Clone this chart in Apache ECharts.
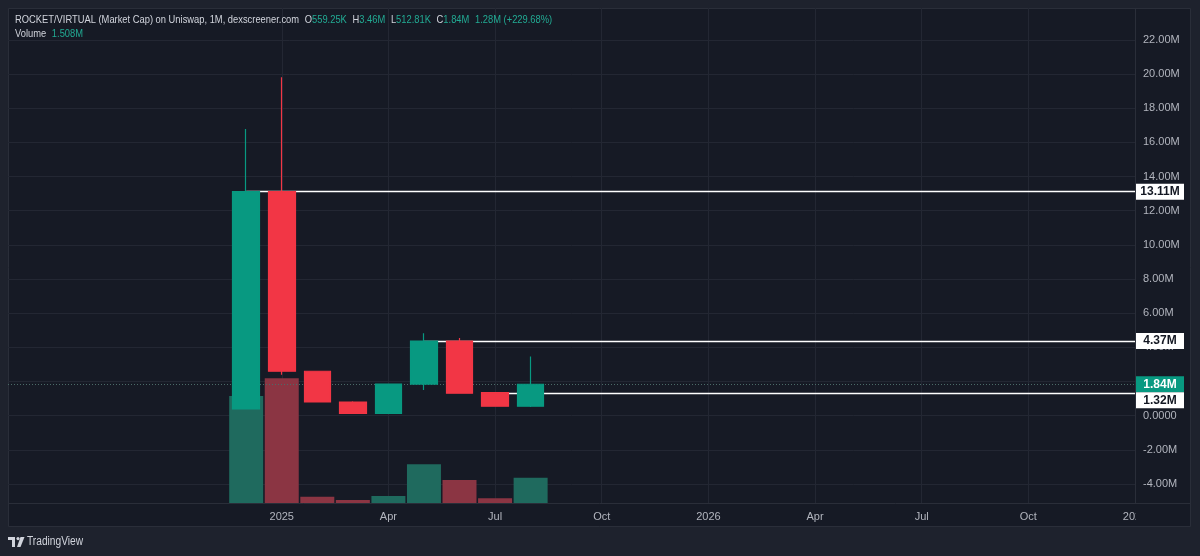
<!DOCTYPE html>
<html lang="en">
<head>
    <meta charset="utf-8">
    <title>ROCKET/VIRTUAL (Market Cap)</title>
    <style>html, body { margin: 0; padding: 0; background: #1e222d; }</style>
</head>
<body>
    <div id="main" style="width:1200px;height:556px;"></div>
    <script src="https://cdn.jsdelivr.net/npm/echarts@6/dist/echarts.min.js"></script>
    <script type="text/javascript">
    // monthly candles, values in millions (market cap)
    var months    = ['2024-12', '2025-01', '2025-02', '2025-03', '2025-04', '2025-05', '2025-06', '2025-07', '2025-08'];
    var openData  = [0.39, 13.11, 2.60, 0.80, 0.14, 1.85, 4.37, 1.35, 0.559];
    var closeData = [13.11, 2.60, 0.80, 0.14, 1.85, 4.37, 1.32, 0.559, 1.84];
    var lowData   = [0.39, 2.40, 0.78, 0.14, 0.14, 1.50, 1.30, 0.53, 0.513];
    var highData  = [16.78, 19.80, 2.62, 0.84, 1.86, 4.82, 4.55, 1.37, 3.46];
    var volumeData = [6.38, 7.43, 0.375, 0.18, 0.42, 2.31, 1.37, 0.28, 1.508];

    // horizontal rays drawn on the chart: start month index + level
    var rayStart  = [0, 5, 7];
    var rayLevels = [13.11, 4.37, 1.32];
    var lastPrice = 1.84;

    // axis ticks
    var yTicks = [-4, -2, 0, 2, 4, 6, 8, 10, 12, 14, 16, 18, 20, 22];
    var xTickIndex  = [1, 4, 7, 10, 13, 16, 19, 22, 25];
    var xTickLabels = ['2025', 'Apr', 'Jul', 'Oct', '2026', 'Apr', 'Jul', 'Oct', '2027'];

    var UP = '#089981', DOWN = '#f23645';
    var VOL_UP = '#1f6a5e', VOL_DOWN = '#8b3543';
    var BG = '#161a25', LINE = '#2a2e39', GRIDLINE = '#232733', TXT = '#b2b5be';
    var FONT = '"Liberation Sans", Arial, sans-serif';

    var candleData = months.map(function (m, i) {
        return [i, openData[i], closeData[i], lowData[i], highData[i]];
    });
    var volData = months.map(function (m, i) {
        return { value: [i, volumeData[i]], itemStyle: { color: closeData[i] >= openData[i] ? VOL_UP : VOL_DOWN } };
    });
    var rayLines = rayLevels.map(function (v, i) {
        return [{ coord: [rayStart[i], v] }, { coord: [25, v] }];
    });

    var myChart = echarts.init(document.getElementById('main'));

    var option = {
        backgroundColor: '#1e222d',
        animation: false,
        grid: { left: 8, right: 65, top: 8, bottom: 53, outerBoundsMode: 'none' },
        xAxis: {
            type: 'value',
            min: -6.7,
            max: 25,
            axisLine: { show: false },
            axisTick: { show: false, customValues: xTickIndex },
            splitLine: { show: true, lineStyle: { color: GRIDLINE, width: 1 } },
            axisLabel: {
                customValues: xTickIndex,
                margin: 8,
                color: TXT,
                fontFamily: FONT,
                fontSize: 11,
                formatter: function (v) {
                    var k = xTickIndex.indexOf(Math.round(v));
                    return k >= 0 ? xTickLabels[k] : '';
                }
            }
        },
        yAxis: [{
            type: 'value',
            position: 'right',
            min: -5.11,
            max: 23.86,
            axisLine: { show: false },
            axisTick: { show: false, customValues: yTicks },
            splitLine: { show: true, lineStyle: { color: GRIDLINE, width: 1 } },
            axisLabel: {
                customValues: yTicks,
                margin: 8,
                align: 'left',
                color: TXT,
                fontFamily: FONT,
                fontSize: 11,
                formatter: function (v) {
                    return v === 0 ? '0.0000' : v.toFixed(2) + 'M';
                }
            }
        }, {
            type: 'value',
            show: false,
            min: 0,
            max: 29.5,
            splitLine: { show: false }
        }],
        series: [{
            name: 'Volume',
            type: 'bar',
            yAxisIndex: 1,
            z: 1,
            barWidth: 34,
            data: volData
        }, {
            name: 'ROCKET/VIRTUAL',
            type: 'candlestick',
            z: 3,
            barWidth: 27,
            encode: { x: 0, y: [1, 2, 3, 4] },
            itemStyle: {
                color: UP, color0: DOWN,
                borderColor: UP, borderColor0: DOWN,
                borderWidth: 1.2
            },
            data: candleData,
            markLine: {
                silent: true,
                symbol: 'none',
                z: 2,
                label: { show: false },
                data: rayLines.concat([
                    [{ coord: [-6.7, lastPrice], lineStyle: { color: '#4b6b68', type: [1, 2], width: 1 } },
                     { coord: [25, lastPrice] }]
                ]),
                lineStyle: { color: '#ffffff', width: 1.3, type: 'solid' }
            }
        }]
    };
    myChart.setOption(option);

    // price boxes on the right scale, pushed apart when they overlap
    var boxes = rayLevels.map(function (v) {
        return { value: v, text: v.toFixed(2) + 'M', bg: '#ffffff', color: '#131722' };
    });
    boxes.push({ value: lastPrice, text: lastPrice.toFixed(2) + 'M', bg: UP, color: '#ffffff' });
    boxes.sort(function (a, b) { return b.value - a.value; });
    var boxH = 16, prevBottom = -1e9;
    var graphics = [
        { type: 'rect', z: -1, shape: { x: 8.5, y: 8.5, width: 1182, height: 518 }, style: { fill: BG, stroke: LINE, lineWidth: 1 } },
        { type: 'line', z: 5, shape: { x1: 1135.5, y1: 8, x2: 1135.5, y2: 503 }, style: { stroke: LINE, lineWidth: 1 } },
        { type: 'line', z: 5, shape: { x1: 8, y1: 503.5, x2: 1191, y2: 503.5 }, style: { stroke: LINE, lineWidth: 1 } },
        { type: 'rect', z: 10, shape: { x: 1136, y: 504, width: 54, height: 22 }, style: { fill: BG } }
    ];
    boxes.forEach(function (b) {
        var cy = myChart.convertToPixel({ yAxisIndex: 0 }, b.value);
        var top = Math.max(cy - boxH / 2, prevBottom);
        prevBottom = top + boxH;
        graphics.push({
            type: 'rect', z: 20,
            shape: { x: 1136, y: top, width: 48, height: boxH },
            style: { fill: b.bg }
        });
        graphics.push({
            type: 'text', z: 21,
            x: 1160, y: top + boxH / 2,
            style: { text: b.text, fill: b.color, font: 'bold 12px ' + FONT, align: 'center', verticalAlign: 'middle' }
        });
    });

    // legend / header (slightly condensed like the TradingView font)
    var teal = '#22ab94', grey = '#d1d4dc';
    var hRich = {
        g: { fill: grey, fontFamily: FONT, fontSize: 11 },
        t: { fill: teal, fontFamily: FONT, fontSize: 11 }
    };
    graphics.push({
        type: 'text', z: 20, x: 15, y: 20, scaleX: 0.85,
        style: {
            text: '{g|ROCKET/VIRTUAL (Market Cap) on Uniswap, 1M, dexscreener.com}  {g|O}{t|559.25K}  {g|H}{t|3.46M}  {g|L}{t|512.81K}  {g|C}{t|1.84M}  {t|1.28M (+229.68%)}',
            verticalAlign: 'middle',
            rich: hRich
        }
    });
    graphics.push({
        type: 'text', z: 20, x: 15, y: 34, scaleX: 0.85,
        style: {
            text: '{g|Volume}  {t|1.508M}',
            verticalAlign: 'middle',
            rich: hRich
        }
    });

    // TradingView mark
    graphics.push({ type: 'rect', z: 20, shape: { x: 8, y: 537, width: 7, height: 3 }, style: { fill: '#d1d4dc' } });
    graphics.push({ type: 'rect', z: 20, shape: { x: 12, y: 537, width: 3, height: 10 }, style: { fill: '#d1d4dc' } });
    graphics.push({ type: 'circle', z: 20, shape: { cx: 18, cy: 538.6, r: 1.6 }, style: { fill: '#d1d4dc' } });
    graphics.push({ type: 'polygon', z: 20, shape: { points: [[20.5, 537], [24.5, 537], [20.5, 547], [17, 547]] }, style: { fill: '#d1d4dc' } });
    graphics.push({
        type: 'text', z: 20, x: 27, y: 542, scaleX: 0.85,
        style: { text: 'TradingView', fill: '#d1d4dc', font: '12px ' + FONT, verticalAlign: 'middle' }
    });

    myChart.setOption({ graphic: graphics });
    </script>
</body>
</html>
